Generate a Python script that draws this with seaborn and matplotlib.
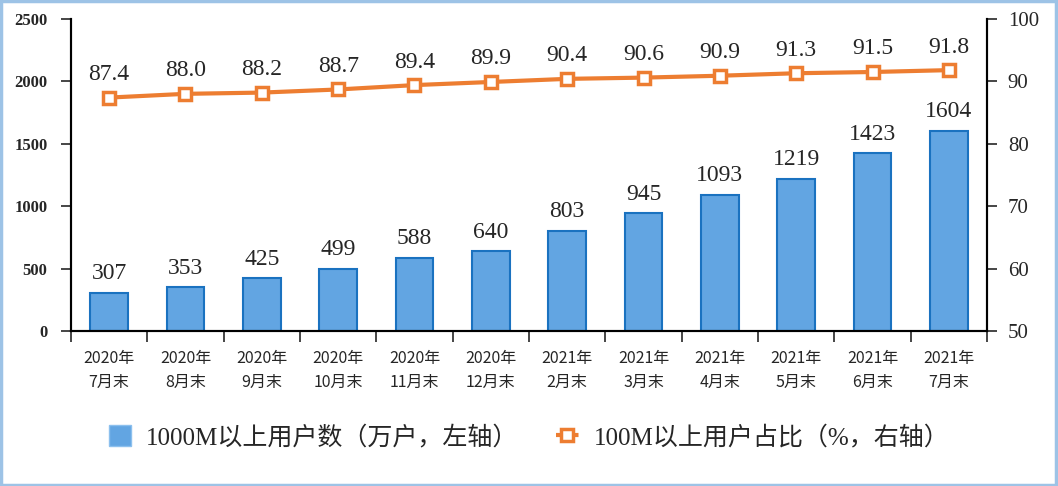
import numpy as np
import pandas as pd
import matplotlib
matplotlib.use("Agg")
import matplotlib.pyplot as plt
import seaborn as sns
from matplotlib.patches import Rectangle
from matplotlib.lines import Line2D

months = ["2020年\n7月末", "2020年\n8月末", "2020年\n9月末", "2020年\n10月末",
          "2020年\n11月末", "2020年\n12月末", "2021年\n2月末", "2021年\n3月末",
          "2021年\n4月末", "2021年\n5月末", "2021年\n6月末", "2021年\n7月末"]
gigabit_users = [307, 353, 425, 499, 588, 640, 803, 945, 1093, 1219, 1423, 1604]
share_100m = [87.4, 88.0, 88.2, 88.7, 89.4, 89.9, 90.4, 90.6, 90.9, 91.3, 91.5, 91.8]
bar_name = "1000M以上用户数（万户，左轴）"
line_name = "100M以上用户占比（%，右轴）"

sns.set_style("white")
plt.rcParams["font.family"] = ["Noto Sans CJK SC", "DejaVu Sans"]
serif = ["Liberation Serif", "DejaVu Serif"]
legend_font = ["Liberation Serif", "Noto Sans CJK SC"]

df = pd.DataFrame({"month": months, "users": gigabit_users, "share": share_100m})
df["pos"] = np.arange(len(df))

fig = plt.figure(figsize=(10.58, 4.86), dpi=100)
ax = fig.add_axes([0.0671, 0.319, 0.8658, 0.642])

blue = "#62a5e2"
orange = "#ed7d31"

sns.barplot(data=df, x="month", y="users", ax=ax, color=blue, width=0.49,
            edgecolor="#1a72c0", linewidth=1.5, saturation=1)
ax.set_ylim(0, 2500)
ax.set_xlim(-0.5, len(df) - 0.5)
ax.set_yticks(np.arange(0, 2501, 500))
ax.set_xlabel("")
ax.set_ylabel("")

for i, v in enumerate(gigabit_users):
    ax.annotate(str(v), (i, v), xytext=(0, 6), textcoords="offset points",
                ha="center", va="bottom", fontsize=17, family=serif)

ax2 = ax.twinx()
sns.lineplot(data=df, x="pos", y="share", ax=ax2, color=orange, linewidth=3,
             marker="s", markersize=8, markerfacecolor="white",
             markeredgecolor=orange, markeredgewidth=2.5)
ax2.set_ylim(50, 100)
ax2.set_yticks(np.arange(50, 101, 10))
ax2.set_xlim(-0.5, len(df) - 0.5)
ax2.set_xlabel("")
ax2.set_ylabel("")
for i, v in enumerate(share_100m):
    ax2.annotate(f"{v:.1f}", (i, v), xytext=(0, 9), textcoords="offset points",
                 ha="center", va="bottom", fontsize=17, family=serif)

for a in (ax, ax2):
    a.spines["top"].set_visible(False)
    for s in ("left", "right", "bottom"):
        a.spines[s].set_color("black")
        a.spines[s].set_linewidth(1.5)

# bottom ticks at category boundaries
ax.set_xticks(np.arange(len(df)))
ax.set_xticklabels(months, fontsize=11.5, color="#262626", linespacing=1.5)
ax.set_xticks(np.arange(-0.5, len(df), 1), minor=True)
ax.tick_params(axis="x", which="major", length=0, pad=14)
ax.tick_params(axis="x", which="minor", length=8, width=1.2, direction="out", bottom=True)
ax.tick_params(axis="y", length=7, width=1.2, direction="out", left=True, pad=10)
for lab in ax.get_yticklabels():
    lab.set_family(serif)
    lab.set_fontweight("bold")
    lab.set_fontsize(12)
ax2.tick_params(axis="y", length=7, width=1.2, direction="out", right=True, pad=8)
for lab in ax2.get_yticklabels():
    lab.set_family(serif)
    lab.set_fontsize(15)

handles = [
    Rectangle((0, 0), 1, 1, facecolor=blue, edgecolor="#8cc0ee", linewidth=1),
    Line2D([], [], color=orange, linewidth=3, linestyle=(0, (1, 1.2)), marker="s",
           markersize=8, markerfacecolor="white", markeredgecolor=orange,
           markeredgewidth=2.5),
]
fig.legend(handles, [bar_name, line_name], loc="center", bbox_to_anchor=(0.5, 0.1),
           ncol=2, frameon=False, prop={"family": legend_font, "size": 18},
           handlelength=0.9, handleheight=0.9, handletextpad=0.6, columnspacing=1.5)

fig.add_artist(Rectangle((0.001, 0.002), 0.997, 0.995, transform=fig.transFigure,
                         fill=False, edgecolor="#9dc3e6", linewidth=2.5))

fig.savefig("out.png", dpi=100)
